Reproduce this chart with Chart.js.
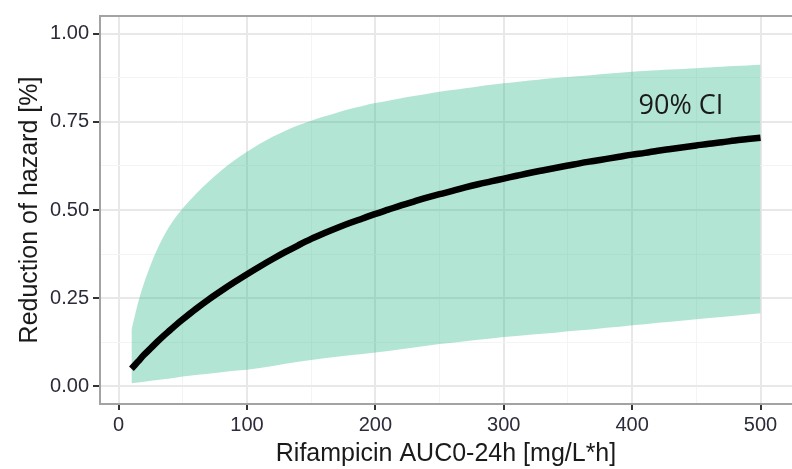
<!DOCTYPE html>
<html>
<head>
<meta charset="utf-8">
<script src="https://cdn.jsdelivr.net/npm/chart.js@4.4.1/dist/chart.umd.min.js"></script>
<style>
  html, body { margin: 0; padding: 0; background: #fff; }
  #wrap { width: 792px; height: 469px; position: relative; }
</style>
</head>
<body>
<div id="wrap"><canvas id="chart"></canvas></div>
<script>
// AUC values (x) and model output
const auc = [10, 15, 20, 25, 30, 35, 40, 45, 50, 60, 70, 80, 90, 100,
             110, 120, 130, 140, 150, 160, 170, 180, 190, 200,
             210, 220, 230, 240, 250, 260, 270, 280, 290, 300,
             310, 320, 330, 340, 350, 360, 370, 380, 390, 400,
             410, 420, 430, 440, 450, 460, 470, 480, 490, 500];

const median = [0.05, 0.07, 0.09, 0.108, 0.126, 0.143, 0.159, 0.175, 0.19, 0.219, 0.246, 0.271, 0.295, 0.318,
                0.34, 0.361, 0.381, 0.40, 0.418, 0.434, 0.449, 0.463, 0.476, 0.489,
                0.501, 0.513, 0.524, 0.535, 0.545, 0.554, 0.564, 0.573, 0.581, 0.589,
                0.597, 0.605, 0.612, 0.619, 0.626, 0.633, 0.639, 0.645, 0.651, 0.657,
                0.662, 0.668, 0.673, 0.678, 0.683, 0.688, 0.692, 0.697, 0.701, 0.705];

const upper = [0.16, 0.235, 0.295, 0.345, 0.388, 0.425, 0.456, 0.482, 0.505, 0.545, 0.58, 0.612, 0.64, 0.665,
               0.688, 0.708, 0.725, 0.74, 0.753, 0.765, 0.776, 0.786, 0.795, 0.803,
               0.81, 0.817, 0.823, 0.829, 0.835, 0.84, 0.845, 0.85, 0.855, 0.859,
               0.863, 0.867, 0.871, 0.874, 0.877, 0.88, 0.883, 0.886, 0.889, 0.892,
               0.894, 0.896, 0.898, 0.90, 0.902, 0.904, 0.906, 0.908, 0.910, 0.912];

const lower = [0.009, 0.011, 0.013, 0.016, 0.018, 0.02, 0.022, 0.025, 0.028, 0.032, 0.036, 0.04, 0.044, 0.047,
               0.052, 0.058, 0.064, 0.07, 0.075, 0.08, 0.084, 0.088, 0.092, 0.096,
               0.10, 0.105, 0.11, 0.115, 0.12, 0.124, 0.128, 0.132, 0.136, 0.14,
               0.143, 0.146, 0.149, 0.152, 0.156, 0.159, 0.162, 0.166, 0.169, 0.173,
               0.176, 0.18, 0.183, 0.187, 0.19, 0.194, 0.197, 0.2, 0.204, 0.207];

const xTicks = [0, 100, 200, 300, 400, 500];
const yTicks = [0, 0.25, 0.5, 0.75, 1.0];

const ciLabel = '90% CI';

// minor grid lines sit halfway between majors
function withMinors(major) {
    const out = [];
    for (let i = 0; i < major.length; i++) {
        out.push(major[i]);
        if (i < major.length - 1) out.push((major[i] + major[i + 1]) / 2);
    }
    return out;
}
const xAll = withMinors(xTicks);
const yAll = withMinors(yTicks);
const isMajor = (list, v) => list.some(m => Math.abs(m - v) < 1e-9);

const pts = arr => auc.map((x, i) => ({ x, y: arr[i] }));

const panelBorder = {
    id: 'panelBorder',
    afterDraw(chart) {
        const { ctx, chartArea: a } = chart;
        ctx.save();
        ctx.strokeStyle = '#a3a3a3';
        ctx.lineWidth = 2;
        ctx.strokeRect(a.left, a.top, a.right - a.left + 10, a.bottom - a.top);
        ctx.restore();
    }
};

const ciText = {
    id: 'ciText',
    afterDatasetsDraw(chart) {
        const { ctx, scales } = chart;
        ctx.save();
        ctx.font = '27px "Open Sans"';
        ctx.fillStyle = '#1a1a1a';
        ctx.textAlign = 'center';
        ctx.textBaseline = 'middle';
        ctx.fillText(ciLabel, scales.x.getPixelForValue(438), scales.y.getPixelForValue(0.795));
        ctx.restore();
    }
};

new Chart(document.getElementById('chart'), {
    type: 'line',
    data: {
        datasets: [{
            label: 'median',
            data: pts(median),
            borderColor: '#000',
            borderWidth: 6.5,
            pointRadius: 0,
            cubicInterpolationMode: 'monotone',
            fill: false
        }, {
            label: 'lower',
            data: pts(lower),
            borderWidth: 0,
            pointRadius: 0,
            fill: false
        }, {
            label: 'upper',
            data: pts(upper),
            borderWidth: 0,
            pointRadius: 0,
            cubicInterpolationMode: 'monotone',
            backgroundColor: 'rgba(35, 181, 129, 0.35)',
            fill: '-1'
        }]
    },
    options: {
        responsive: true,
        maintainAspectRatio: false,
        animation: false,
        layout: { padding: { top: 10, right: 0, bottom: 0, left: 0 } },
        plugins: {
            legend: { display: false },
            tooltip: { enabled: false }
        },
        scales: {
            x: {
                type: 'linear',
                min: -14.5,
                max: 524.5,
                afterFit: s => { s.height = 65; },
                afterBuildTicks: s => { s.ticks = xAll.map(v => ({ value: v })); },
                border: { display: false },
                grid: {
                    color: c => isMajor(xTicks, c.tick.value) ? '#e8e8e8' : '#f4f4f4',
                    lineWidth: c => isMajor(xTicks, c.tick.value) ? 2 : 1,
                    tickColor: c => isMajor(xTicks, c.tick.value) ? '#333' : 'rgba(0,0,0,0)',
                    tickLength: 6
                },
                ticks: {
                    autoSkip: false,
                    maxRotation: 0,
                    padding: 3,
                    color: '#2b2b3a',
                    font: { family: '"Liberation Sans", Arial, sans-serif', size: 20 },
                    callback: v => isMajor(xTicks, v) ? String(v) : ''
                },
                title: {
                    display: true,
                    text: 'Rifampicin AUC0-24h [mg/L*h]',
                    color: '#1a1a1a',
                    font: { family: '"Liberation Sans", Arial, sans-serif', size: 25 },
                    padding: { top: 0, bottom: 0 }
                }
            },
            y: {
                min: -0.05,
                max: 1.05,
                afterFit: s => { s.width = 100; },
                afterBuildTicks: s => { s.ticks = yAll.map(v => ({ value: v })); },
                border: { display: false },
                grid: {
                    color: c => isMajor(yTicks, c.tick.value) ? '#e8e8e8' : '#f4f4f4',
                    lineWidth: c => isMajor(yTicks, c.tick.value) ? 2 : 1,
                    tickColor: c => isMajor(yTicks, c.tick.value) ? '#333' : 'rgba(0,0,0,0)',
                    tickLength: 7
                },
                ticks: {
                    autoSkip: false,
                    padding: 4,
                    color: '#2b2b3a',
                    font: { family: '"Liberation Sans", Arial, sans-serif', size: 20 },
                    callback: v => isMajor(yTicks, v) ? v.toFixed(2) : ''
                },
                title: {
                    display: true,
                    text: 'Reduction of hazard [%]',
                    color: '#1a1a1a',
                    font: { family: '"Liberation Sans", Arial, sans-serif', size: 25 },
                    padding: { top: 15, bottom: 0 }
                }
            }
        }
    },
    plugins: [panelBorder, ciText]
});
</script>
</body>
</html>
